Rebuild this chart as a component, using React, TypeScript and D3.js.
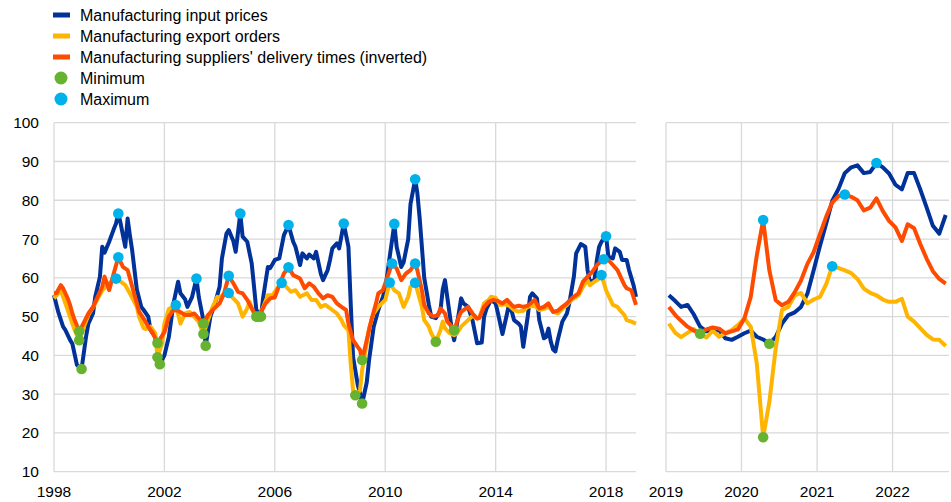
import React from "react";
import * as d3 from "d3";

type Pair = [string, number];

// legend labels, in the reference order
const seriesNames = [
  "Manufacturing input prices",
  "Manufacturing export orders",
  "Manufacturing suppliers' delivery times (inverted)",
];
const markerNames = ["Minimum", "Maximum"];

const yTicks = [10, 20, 30, 40, 50, 60, 70, 80, 90, 100];
const leftYears = [1998, 2002, 2006, 2010, 2014, 2018];
const rightYears = [2019, 2020, 2021, 2022];

// 1998 - early 2019 (month, value)
const inputPricesHist: Pair[] = [
  ["1998-01", 55.5], ["1998-03", 51], ["1998-05", 47.4], ["1998-06", 46.5], ["1998-08", 44], ["1998-09", 43],
  ["1998-11", 37.5], ["1999-01", 36.5], ["1999-03", 44.8], ["1999-04", 48.2], ["1999-06", 50.8], ["1999-07", 55.1],
  ["1999-09", 60.3], ["1999-10", 68], ["1999-11", 66.5], ["2000-01", 69.3], ["2000-03", 72.5], ["2000-04", 74],
  ["2000-05", 76.6], ["2000-06", 74], ["2000-07", 71], ["2000-08", 68], ["2000-09", 75.3], ["2000-10", 71],
  ["2000-11", 67], ["2000-12", 62], ["2001-01", 57], ["2001-03", 52.5], ["2001-04", 51.7], ["2001-06", 50],
  ["2001-07", 46.5], ["2001-09", 44.8], ["2001-11", 37.7], ["2002-01", 40], ["2002-03", 44.8], ["2002-05", 53.4],
  ["2002-07", 59], ["2002-08", 56], ["2002-10", 54.5], ["2002-11", 52.5], ["2003-01", 55], ["2003-03", 59.8],
  ["2003-04", 55], ["2003-06", 49], ["2003-07", 42.5], ["2003-09", 50], ["2003-11", 53.4], ["2004-01", 57.7],
  ["2004-02", 65], ["2004-04", 71.4], ["2004-05", 72.3], ["2004-07", 69.5], ["2004-08", 66.7], ["2004-10", 76.6],
  ["2004-11", 70.6], ["2005-01", 69.3], ["2005-03", 63.7], ["2005-04", 57.7], ["2005-05", 51.7], ["2005-07", 50],
  ["2005-08", 55.1], ["2005-10", 62.8], ["2005-11", 62.5], ["2006-01", 64.6], ["2006-03", 65], ["2006-05", 71],
  ["2006-07", 73.6], ["2006-09", 69.3], ["2006-10", 68], ["2006-12", 63.3], ["2007-01", 66.3], ["2007-03", 65],
  ["2007-04", 66], ["2007-06", 65], ["2007-07", 66.7], ["2007-09", 61.1], ["2007-10", 59.4], ["2007-12", 62],
  ["2008-01", 64.6], ["2008-02", 67.6], ["2008-04", 68.9], ["2008-05", 67.6], ["2008-07", 74], ["2008-09", 68],
  ["2008-10", 53.4], ["2008-11", 39.6], ["2009-01", 32.5], ["2009-02", 30.2], ["2009-03", 27.6], ["2009-05", 33],
  ["2009-06", 38.8], ["2009-08", 47.4], ["2009-10", 51.7], ["2009-12", 55.1], ["2010-01", 57], ["2010-03", 65.4],
  ["2010-05", 73.9], ["2010-06", 68], ["2010-08", 62.8], ["2010-09", 64], ["2010-11", 70], ["2010-12", 79],
  ["2011-02", 85.4], ["2011-03", 82], ["2011-04", 75.5], ["2011-05", 68], ["2011-06", 60], ["2011-08", 53],
  ["2011-09", 50], ["2011-11", 49.6], ["2012-01", 51.5], ["2012-02", 57], ["2012-03", 59.4], ["2012-04", 55],
  ["2012-06", 46.5], ["2012-07", 43.9], ["2012-09", 51], ["2012-10", 54.7], ["2012-11", 53.4], ["2013-01", 52.5],
  ["2013-03", 49], ["2013-05", 43.1], ["2013-07", 43.3], ["2013-08", 50], ["2013-09", 52], ["2013-11", 54.3],
  ["2014-01", 53.4], ["2014-02", 50.8], ["2014-04", 45.5], ["2014-06", 50.8], ["2014-07", 53.6], ["2014-09", 49.1],
  ["2014-11", 48.2], ["2014-12", 47.4], ["2015-01", 42.2], ["2015-03", 50], ["2015-04", 55.1], ["2015-05", 56],
  ["2015-07", 54.7], ["2015-08", 49.1], ["2015-10", 44.4], ["2015-11", 44.8], ["2015-12", 46.9], ["2016-01", 43.5],
  ["2016-02", 41.5], ["2016-03", 41], ["2016-04", 43.9], ["2016-06", 48.7], ["2016-08", 50.8], ["2016-09", 53.4],
  ["2016-11", 60.3], ["2016-12", 66.3], ["2017-02", 68.7], ["2017-04", 68], ["2017-05", 62], ["2017-06", 58.8],
  ["2017-08", 59.5], ["2017-09", 64.6], ["2017-10", 68], ["2017-11", 69.3], ["2018-01", 70.7], ["2018-02", 65.4],
  ["2018-04", 65], ["2018-05", 67.6], ["2018-07", 66.7], ["2018-08", 64.6], ["2018-10", 64.6], ["2018-11", 62],
  ["2019-01", 58], ["2019-02", 55.1],
];

const exportOrdersHist: Pair[] = [
  ["1998-01", 54.7], ["1998-04", 56.8], ["1998-06", 53.4], ["1998-08", 49.9], ["1998-10", 46.5], ["1998-12", 43.9],
  ["1999-02", 47.4], ["1999-04", 50.4], ["1999-07", 53.4], ["1999-10", 56.8], ["2000-01", 58.6], ["2000-04", 59.8],
  ["2000-06", 59], ["2000-08", 58.1], ["2000-10", 56], ["2001-01", 52.5], ["2001-02", 49.9], ["2001-04", 47],
  ["2001-05", 46.8], ["2001-07", 47.4], ["2001-09", 45.7], ["2001-10", 39.5], ["2001-12", 43.1], ["2002-01", 48.2],
  ["2002-03", 52], ["2002-05", 52.5], ["2002-06", 53], ["2002-08", 48.2], ["2002-10", 50.8], ["2002-12", 51.2],
  ["2003-02", 49.9], ["2003-04", 48.6], ["2003-06", 45.5], ["2003-08", 49.1], ["2003-10", 52.5], ["2003-12", 55.1],
  ["2004-01", 54.8], ["2004-03", 56], ["2004-05", 56.1], ["2004-07", 54.7], ["2004-09", 53.4], ["2004-11", 50],
  ["2005-01", 52.1], ["2005-02", 53.8], ["2005-04", 50.8], ["2005-06", 50], ["2005-08", 52.5], ["2005-10", 55.5],
  ["2005-12", 55.5], ["2006-02", 57.3], ["2006-04", 58.7], ["2006-06", 57.7], ["2006-08", 56.4], ["2006-10", 56.8],
  ["2006-12", 55.1], ["2007-03", 56], ["2007-05", 54.3], ["2007-07", 54.3], ["2007-09", 52.5], ["2007-11", 53],
  ["2008-02", 51.7], ["2008-04", 50.8], ["2008-06", 49.1], ["2008-07", 47.8], ["2008-09", 46.5], ["2008-10", 37.9],
  ["2008-11", 31], ["2008-12", 29.7], ["2009-02", 31], ["2009-03", 36.2], ["2009-05", 43.1], ["2009-06", 47],
  ["2009-08", 50.8], ["2009-10", 52.5], ["2010-01", 54.3], ["2010-03", 58.8], ["2010-05", 56.8], ["2010-07", 56],
  ["2010-09", 52.5], ["2010-11", 55.1], ["2010-12", 57.7], ["2011-02", 58.7], ["2011-03", 56.8], ["2011-05", 52.5],
  ["2011-06", 49.1], ["2011-08", 47.4], ["2011-09", 45.7], ["2011-11", 43.5], ["2012-01", 46.5], ["2012-02", 48.7],
  ["2012-03", 47], ["2012-05", 45.7], ["2012-07", 45.2], ["2012-08", 45.5], ["2012-10", 47.4], ["2013-01", 49.1],
  ["2013-03", 50.2], ["2013-05", 49.5], ["2013-06", 49.8], ["2013-08", 53.4], ["2013-10", 54.3], ["2013-11", 55.1],
  ["2014-01", 54.8], ["2014-03", 53], ["2014-05", 53.2], ["2014-07", 52.8], ["2014-09", 51.7], ["2014-11", 51.3],
  ["2015-01", 51.5], ["2015-03", 52.5], ["2015-06", 52.8], ["2015-08", 51.7], ["2015-10", 52], ["2015-12", 52.5],
  ["2016-02", 51.3], ["2016-04", 50.8], ["2016-06", 52], ["2016-08", 53], ["2016-10", 54.3], ["2017-01", 55.5],
  ["2017-03", 57.7], ["2017-05", 59.4], ["2017-06", 58.1], ["2017-08", 59], ["2017-10", 59.8], ["2017-11", 60.7],
  ["2018-01", 56.8], ["2018-03", 54.3], ["2018-04", 53], ["2018-06", 52.5], ["2018-07", 51.7], ["2018-09", 50.4],
  ["2018-10", 49.1], ["2018-12", 48.7], ["2019-02", 48.2],
];

const deliveryTimesHist: Pair[] = [
  ["1998-01", 56], ["1998-02", 56], ["1998-04", 58.1], ["1998-05", 57.3], ["1998-07", 54.7], ["1998-08", 53],
  ["1998-09", 50.8], ["1998-10", 49.1], ["1998-12", 46.2], ["1999-02", 48.5], ["1999-04", 50.8], ["1999-06", 52.5],
  ["1999-08", 55.1], ["1999-10", 57.7], ["1999-11", 60.3], ["2000-01", 56.8], ["2000-03", 61.1], ["2000-05", 65.3],
  ["2000-07", 62.8], ["2000-09", 62], ["2000-11", 57.7], ["2001-01", 53.4], ["2001-02", 51.2], ["2001-04", 49.5],
  ["2001-06", 47.4], ["2001-08", 45.7], ["2001-10", 43.2], ["2002-01", 46], ["2002-03", 50], ["2002-05", 51.7],
  ["2002-07", 51.5], ["2002-10", 50.4], ["2002-12", 50.4], ["2003-02", 50.8], ["2003-04", 49.5], ["2003-06", 48.2],
  ["2003-08", 50.4], ["2003-10", 51.7], ["2004-01", 53.4], ["2004-03", 56], ["2004-05", 60.5], ["2004-07", 58.6],
  ["2004-09", 56.4], ["2004-11", 56], ["2005-01", 54.3], ["2005-03", 52.1], ["2005-05", 50], ["2005-07", 51.2],
  ["2005-09", 53.4], ["2005-11", 54.7], ["2006-01", 55], ["2006-03", 58.1], ["2006-05", 61.1], ["2006-07", 62.7],
  ["2006-09", 60.7], ["2006-12", 59.8], ["2007-02", 57.3], ["2007-04", 58.6], ["2007-06", 57.7], ["2007-08", 56],
  ["2007-10", 54.7], ["2007-12", 55.5], ["2008-02", 55.1], ["2008-04", 53.4], ["2008-06", 52.5], ["2008-08", 51.7],
  ["2008-09", 48.2], ["2008-11", 43.9], ["2009-01", 42.2], ["2009-02", 41.4], ["2009-03", 38.8], ["2009-05", 43.9],
  ["2009-07", 49.1], ["2009-09", 53.4], ["2009-10", 56], ["2009-12", 56.8], ["2010-02", 60.3], ["2010-04", 63.7],
  ["2010-06", 62.4], ["2010-08", 59.4], ["2010-10", 61.1], ["2010-12", 62], ["2011-02", 63.7], ["2011-03", 62],
  ["2011-05", 56.8], ["2011-06", 53], ["2011-08", 50.8], ["2011-10", 50], ["2011-12", 50.4], ["2012-01", 52.1],
  ["2012-03", 50.8], ["2012-04", 48.7], ["2012-06", 47.4], ["2012-07", 46.5], ["2012-09", 50], ["2012-10", 51.2],
  ["2013-01", 52.5], ["2013-03", 50.8], ["2013-05", 49.5], ["2013-06", 49.7], ["2013-08", 52.5], ["2013-10", 53.8],
  ["2013-12", 54.3], ["2014-02", 54], ["2014-04", 53.4], ["2014-06", 54.3], ["2014-08", 53], ["2014-09", 52.5],
  ["2014-11", 52.8], ["2015-01", 52.5], ["2015-03", 52.8], ["2015-06", 54.3], ["2015-08", 52.1], ["2015-10", 52.5],
  ["2015-12", 53.4], ["2016-02", 51.2], ["2016-04", 51.5], ["2016-06", 52.5], ["2016-08", 53.4], ["2016-10", 54.7],
  ["2017-01", 56], ["2017-03", 59], ["2017-05", 60.3], ["2017-07", 61.5], ["2017-09", 63.3], ["2017-12", 64.8],
  ["2018-02", 64.6], ["2018-04", 63.3], ["2018-06", 62], ["2018-08", 59.4], ["2018-09", 58.1], ["2018-10", 57.3],
  ["2018-12", 56.8], ["2019-02", 53],
];

const maxHist: Pair[] = [
  ["2000-05", 76.6], ["2003-03", 59.8], ["2004-10", 76.6], ["2006-07", 73.6], ["2008-07", 74], ["2010-05", 73.9],
  ["2011-02", 85.4], ["2018-01", 70.7], ["2000-05", 65.3], ["2004-05", 60.5], ["2006-07", 62.7], ["2010-04", 63.7],
  ["2011-02", 63.7], ["2017-12", 64.8], ["2000-04", 59.8], ["2002-06", 53], ["2004-05", 56.1], ["2006-04", 58.7],
  ["2010-03", 58.8], ["2011-02", 58.7], ["2017-11", 60.7],
];
const minHist: Pair[] = [
  ["1999-01", 36.5], ["2001-11", 37.7], ["2003-07", 42.5], ["2005-07", 50], ["2009-03", 27.6], ["1998-12", 46.2],
  ["2001-10", 43.2], ["2003-06", 48.2], ["2005-05", 50], ["2009-03", 38.8], ["2012-07", 46.5], ["1998-12", 43.9],
  ["2001-10", 39.5], ["2003-06", 45.5], ["2005-06", 50], ["2008-12", 29.7], ["2011-11", 43.5],
];

// Jan 2019 - Sep 2022, monthly
const inputPricesRecent = [
  55.5, 54, 52.5, 53, 50.6, 47.4, 46.2, 46.5, 46.5, 44.4, 44, 44.8, 45.7, 46.4, 44.8, 44.1, 43, 44.8, 48.2, 50.4,
  51.1, 52.5, 55.9, 61.9, 68.3, 74.2, 79.8, 83, 87, 88.5, 89, 87, 87.3, 89.6, 88.5, 86.9, 84, 82.8, 87, 87, 82.8,
  78.1, 73.4, 71.4, 76.2,
];
const exportOrdersRecent = [
  48.2, 45.8, 44.7, 45.8, 46.8, 45.5, 44.6, 46.4, 44.8, 45.7, 46.5, 47.8, 49.5, 47.4, 38, 18.9, 28, 42, 51.7, 52.5,
  55.5, 56.1, 53.4, 54.4, 55.1, 58.5, 63, 62.5, 61.9, 61.2, 59.7, 57.2, 56.1, 55.5, 54.4, 53.8, 53.8, 54.6, 50, 48.7,
  47, 45.3, 44.1, 44, 42.4,
];
const deliveryTimesRecent = [
  52.5, 50.4, 48.9, 47.4, 46.4, 45.8, 46.7, 47.2, 46.9, 45.7, 46.2, 46.7, 49.5, 55.1, 65.7, 74.9, 61.9, 54.2, 52.9,
  53.8, 56.3, 59.3, 63.6, 66.6, 71.3, 75.9, 79.4, 81.1, 81.5, 80.9, 80, 77.4, 78.1, 80.5, 77.2, 74.7, 73, 69.5, 73.8,
  72.8, 68.7, 64.9, 61.7, 59.7, 58.5,
];
const maxRecent: Pair[] = [["2020-04", 74.9], ["2021-03", 63], ["2021-05", 81.5], ["2021-10", 89.6]];
const minRecent: Pair[] = [["2019-06", 45.6], ["2020-04", 18.9], ["2020-05", 43]];

const BLUE = "#003299";
const YELLOW = "#ffb400";
const ORANGE = "#ff4b00";
const GREEN = "#65b32e";
const CYAN = "#00b1ea";
const GRID = "#d9d9d9";
const FONT = "'Liberation Sans', Arial, Helvetica, sans-serif";

type Pt = { date: Date; value: number };
const parseMonth = d3.timeParse("%Y-%m");
const toPts = (rows: Pair[], shift = 0): Pt[] =>
  rows.map(([m, v]) => ({ date: d3.timeDay.offset(parseMonth(m) as Date, shift), value: v }));

const recentMonths = d3.timeMonth.range(new Date(2019, 0, 1), new Date(2022, 9, 1));
const recentPts = (vals: number[]): Pt[] =>
  vals.map((v, i) => ({ date: d3.timeDay.offset(recentMonths[i], 14), value: v }));

const App: React.FC = () => {
  const y = d3.scaleLinear().domain([10, 100]).range([471.7, 122.7]);
  const xLeft = d3.scaleTime().domain([new Date(1998, 0, 1), new Date(2019, 1, 1)]).range([54, 636]);
  const xRight = d3.scaleTime().domain([new Date(2019, 0, 1), new Date(2022, 9, 1)]).range([666, 949]);

  const panels = [
    {
      x: xLeft,
      years: leftYears,
      lines: [toPts(inputPricesHist), toPts(exportOrdersHist), toPts(deliveryTimesHist)],
      mins: toPts(minHist),
      maxs: toPts(maxHist),
    },
    {
      x: xRight,
      years: rightYears,
      lines: [recentPts(inputPricesRecent), recentPts(exportOrdersRecent), recentPts(deliveryTimesRecent)],
      mins: toPts(minRecent, 14),
      maxs: toPts(maxRecent, 14),
    },
  ];
  const colors = [BLUE, YELLOW, ORANGE];

  const legendRows = [
    { label: seriesNames[0], color: BLUE, kind: "line" },
    { label: seriesNames[1], color: YELLOW, kind: "line" },
    { label: seriesNames[2], color: ORANGE, kind: "line" },
    { label: markerNames[0], color: GREEN, kind: "dot" },
    { label: markerNames[1], color: CYAN, kind: "dot" },
  ];

  return (
    <svg
      width={951}
      height={502}
      style={{ position: "absolute", left: 0, top: 0, background: "#fff" }}
      fontFamily={FONT}
    >
      {/* legend */}
      {legendRows.map((r, i) => {
        const cy = 15 + i * 21;
        return (
          <g key={r.label}>
            {r.kind === "line" ? (
              <rect x={53} y={cy - 2.5} width={17} height={5} fill={r.color} />
            ) : (
              <circle cx={61} cy={cy} r={6.5} fill={r.color} />
            )}
            <text x={80} y={cy} dominantBaseline="central" fontSize={16} fill="#000">
              {r.label}
            </text>
          </g>
        );
      })}

      {/* y labels */}
      {yTicks.map(t => (
        <text key={t} x={39} y={y(t)} textAnchor="end" dominantBaseline="central" fontSize={15.5} fill="#000">
          {t}
        </text>
      ))}

      {panels.map((p, pi) => {
        const [x0, x1] = p.x.range();
        const line = d3
          .line<Pt>()
          .x(d => p.x(d.date))
          .y(d => y(d.value));
        return (
          <g key={pi}>
            {yTicks.map(t => (
              <line key={t} x1={x0} x2={x1} y1={y(t)} y2={y(t)} stroke={GRID} strokeWidth={1.3} />
            ))}
            {p.years.map(yr => {
              const xx = p.x(new Date(yr, 0, 1));
              return (
                <g key={yr}>
                  <line x1={xx} x2={xx} y1={y(100)} y2={y(10)} stroke={GRID} strokeWidth={1.3} />
                  <text x={xx} y={491} textAnchor="middle" dominantBaseline="central" fontSize={15.5} fill="#000">
                    {yr}
                  </text>
                </g>
              );
            })}
            {p.lines.map((pts, li) => (
              <path
                key={li}
                d={line(pts) ?? ""}
                fill="none"
                stroke={colors[li]}
                strokeWidth={4}
                strokeLinejoin="round"
              />
            ))}
            {p.mins.map((d, i) => (
              <circle key={"mn" + i} cx={p.x(d.date)} cy={y(d.value)} r={5.3} fill={GREEN} />
            ))}
            {p.maxs.map((d, i) => (
              <circle key={"mx" + i} cx={p.x(d.date)} cy={y(d.value)} r={5.3} fill={CYAN} />
            ))}
          </g>
        );
      })}
    </svg>
  );
};

export default App;
